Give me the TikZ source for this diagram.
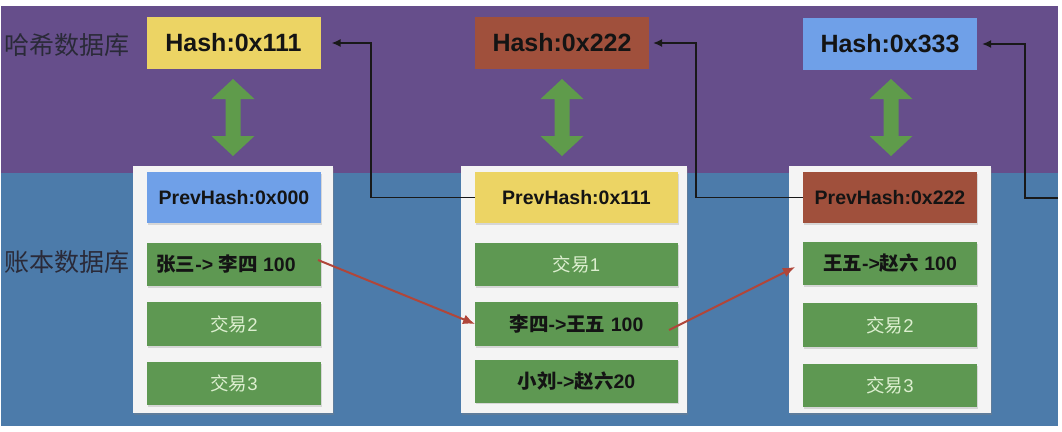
\documentclass[tikz,border=0pt]{standalone}
\usepackage{fontspec}
\setmainfont{Liberation Sans}
\newfontfamily\cjk{Noto Sans CJK SC}
\newfontfamily\cjkb{Noto Sans CJK SC Bold}
\usetikzlibrary{arrows.meta,shadows,calc}
\definecolor{purplebg}{HTML}{664E8B}
\definecolor{bluebg}{HTML}{4C7BAA}
\definecolor{cyellow}{HTML}{ECD464}
\definecolor{cbrown}{HTML}{A0503C}
\definecolor{cblue}{HTML}{6FA0E8}
\definecolor{txgreen}{HTML}{5E9852}
\definecolor{arrgreen}{HTML}{5F9B4B}
\definecolor{blockwhite}{HTML}{F4F4F4}
\definecolor{redarr}{HTML}{B0463A}
\definecolor{txlighttext}{HTML}{DDEFD0}
\definecolor{labelgray}{HTML}{2A2A38}
\tikzset{
  hashbox/.style={minimum width=174pt, minimum height=52pt, inner sep=0pt, outer sep=0pt,
    font=\bfseries\fontsize{25}{25}\selectfont, text=black!92},
  block/.style={fill=blockwhite, inner sep=0pt, outer sep=0pt,
    drop shadow={shadow xshift=1pt, shadow yshift=-2pt, opacity=0.35}},
  prevbox/.style={minimum height=51pt, inner sep=0pt, outer sep=0pt,
    font=\bfseries\fontsize{19.5}{19.5}\selectfont, text=black!92,
    drop shadow={shadow xshift=1pt, shadow yshift=-1.5pt, opacity=0.25}},
  txbox/.style={fill=txgreen, inner sep=0pt, outer sep=0pt,
    drop shadow={shadow xshift=1pt, shadow yshift=-1.5pt, opacity=0.25}},
  txlight/.style={txbox, text=txlighttext, font=\cjk\fontsize{18.5}{18.5}\selectfont},
  txdark/.style={txbox, text=black!92, font=\bfseries\fontsize{19.5}{19.5}\selectfont},
  dbarrow/.style={fill=arrgreen},
  conn/.style={draw=black!90, line width=1.8pt, -{Latex[length=9pt,width=8pt]}},
  redconn/.style={draw=redarr, line width=2pt, -{Latex[length=12pt,width=10pt]}},
  dblabel/.style={font=\cjk\fontsize{25}{25}\selectfont, text=labelgray, anchor=west, inner sep=0pt}
}
\begin{document}
\begin{tikzpicture}[x=1pt,y=-1pt]
\useasboundingbox (0,0) rectangle (1062,431);
\fill[white] (0,0) rectangle (1062,431);
% background bands
\fill[purplebg] (1,6) rectangle (1058,173);
\fill[bluebg] (1,173) rectangle (1058,426);
% side labels
\node[dblabel] (lab1) at (4,45) {哈希数据库};
\node[dblabel] (lab2) at (4,262) {账本数据库};
% hash boxes
\node[hashbox, fill=cyellow] (h1) at (233.5,43) {Hash:0x111};
\node[hashbox, fill=cbrown] (h2) at (562,43) {Hash:0x222};
\node[hashbox, fill=cblue] (h3) at (890,44) {Hash:0x333};
% double arrows
\foreach \c in {233,562,891}{
  \fill[dbarrow] (\c,79) -- (\c+21.5,99) -- (\c+7.5,99) -- (\c+7.5,136) -- (\c+21.5,136)
    -- (\c,156) -- (\c-21.5,136) -- (\c-7.5,136) -- (\c-7.5,99) -- (\c-21.5,99) -- cycle;
}
% blocks
\node[block, minimum width=200pt, minimum height=247pt] (b1) at (233,289.5) {};
\node[block, minimum width=226pt, minimum height=247pt] (b2) at (574,289.5) {};
\node[block, minimum width=202pt, minimum height=247pt] (b3) at (890,289.5) {};
% block 1
\node[prevbox, fill=cblue, minimum width=174pt] (p1) at (234,197.5) {PrevHash:0x000};
\node[txdark, minimum width=174pt, minimum height=43pt] (t11) at (234,264.5) {\hspace*{-16pt}{\cjkb 张三}-> {\cjkb 李四} 100};
\node[txlight, minimum width=174pt, minimum height=44pt] (t12) at (234,324) {交易\fontspec{Liberation Sans}2};
\node[txlight, minimum width=174pt, minimum height=43pt] (t13) at (234,383.5) {交易\fontspec{Liberation Sans}3};
% block 2
\node[prevbox, fill=cyellow, minimum width=203pt] (p2) at (576.5,197.5) {PrevHash:0x111};
\node[txlight, minimum width=203pt, minimum height=43pt] (t21) at (576.5,264.5) {交易\fontspec{Liberation Sans}1};
\node[txdark, minimum width=203pt, minimum height=44pt] (t22) at (576.5,324) {{\cjkb 李四}->{\cjkb 王五} 100};
\node[txdark, minimum width=203pt, minimum height=43pt] (t23) at (576.5,381) {{\cjkb 小刘}->{\cjkb 赵六}20};
% block 3
\node[prevbox, fill=cbrown, minimum width=174pt] (p3) at (890,197.5) {PrevHash:0x222};
\node[txdark, minimum width=174pt, minimum height=43pt] (t31) at (890,263.5) {{\cjkb 王五}->{\cjkb 赵六} 100};
\node[txlight, minimum width=174pt, minimum height=44pt] (t32) at (890,325) {交易\fontspec{Liberation Sans}2};
\node[txlight, minimum width=174pt, minimum height=43pt] (t33) at (890,385.5) {交易\fontspec{Liberation Sans}3};
% hash links
\coordinate (p4) at (1058,198);
\draw[conn, shorten >=11pt] (p2.west) -- ++(-104,0) |- (h1.east);
\draw[conn, shorten >=4pt] (p3.west) -- ++(-107,0) |- (h2.east);
\draw[conn, shorten >=5pt] (p4) -- ++(-33,0) |- (h3.east);
% transaction links
\draw[redconn] ([xshift=-3pt,yshift=4.5pt]t11.east) -- (t22.west);
\draw[redconn] ([xshift=-9pt,yshift=-6pt]t22.east) -- ([xshift=-8pt,yshift=-3.5pt]t31.west);
\end{tikzpicture}
\end{document}
